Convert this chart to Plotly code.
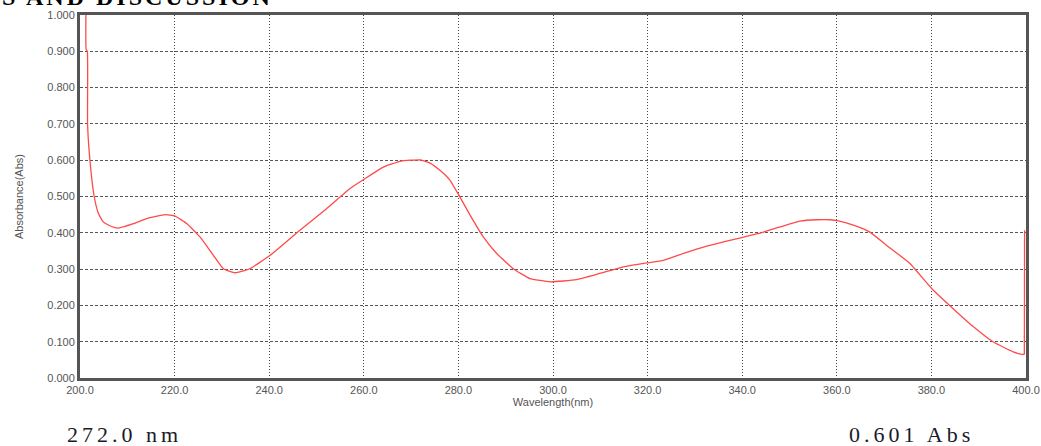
import plotly.graph_objects as go

# UV-Vis absorption spectrum (wavelength in nm, absorbance in Abs)
wavelength = [201.25, 201.3, 201.55, 201.6, 202.1, 203.0, 203.9, 204.9, 206.5, 208.1,
              211.3, 214.1, 218.0, 220.1, 222.6, 225.4, 228.2, 230.3, 232.8, 235.9,
              240.2, 246.5, 252.0, 257.1, 259.9, 264.1, 267.7, 270.0, 272.0, 274.0,
              276.1, 278.2, 280.3, 282.5, 285.3, 288.1, 291.6, 295.1, 299.4, 305.0,
              309.9, 314.9, 319.8, 323.3, 327.6, 332.5, 336.7, 339.9, 344.5, 348.0,
              352.2, 355.7, 358.6, 360.3, 363.5, 367.0, 370.5, 375.5, 380.1, 384.6,
              388.9, 393.1, 397.3, 399.2, 399.65, 399.7]
absorbance = [1.000, 0.905, 0.900, 0.700, 0.600, 0.500, 0.453, 0.430, 0.418, 0.413,
              0.425, 0.439, 0.450, 0.446, 0.425, 0.388, 0.338, 0.301, 0.290, 0.301,
              0.338, 0.407, 0.465, 0.522, 0.546, 0.581, 0.597, 0.600, 0.601, 0.592,
              0.572, 0.545, 0.499, 0.448, 0.388, 0.343, 0.301, 0.274, 0.265, 0.271,
              0.288, 0.306, 0.317, 0.324, 0.343, 0.363, 0.377, 0.387, 0.402, 0.416,
              0.432, 0.436, 0.436, 0.433, 0.421, 0.402, 0.366, 0.315, 0.246, 0.191,
              0.141, 0.099, 0.072, 0.065, 0.065, 0.407]

x_ticks = [200, 220, 240, 260, 280, 300, 320, 340, 360, 380, 400]
y_ticks = [0.0, 0.1, 0.2, 0.3, 0.4, 0.5, 0.6, 0.7, 0.8, 0.9, 1.0]

# peak reading shown under the chart (main band above 240 nm)
peak_idx = max(range(len(absorbance)), key=lambda i: absorbance[i] if wavelength[i] > 240 else -1)
peak_wl = wavelength[peak_idx]
peak_abs = absorbance[peak_idx]

fig = go.Figure()
# smooth body of the spectrum
fig.add_trace(go.Scatter(
    x=wavelength[:-1], y=absorbance[:-1], mode="lines",
    line=dict(color="#ff4a4a", width=1.3, shape="spline", smoothing=0.4),
    showlegend=False, hoverinfo="skip",
))
# final jump at the end of the scan
fig.add_trace(go.Scatter(
    x=wavelength[-2:], y=absorbance[-2:], mode="lines",
    line=dict(color="#ff4a4a", width=1.3),
    showlegend=False, hoverinfo="skip",
))

tick_font = dict(family="Liberation Sans, Arial, sans-serif", size=11, color="#555555")

fig.update_xaxes(
    range=[200, 400], tickmode="array", tickvals=x_ticks,
    ticktext=[f"{v:.1f}" for v in x_ticks], tickfont=tick_font,
    showgrid=True, gridcolor="#444444", gridwidth=1, griddash="1px,2px",
    showline=True, linecolor="#555555", linewidth=3, mirror=True,
    ticks="", zeroline=False, automargin=False,
    title=dict(text="Wavelength(nm)", font=tick_font, standoff=0),
)
fig.update_yaxes(
    range=[0, 1], tickmode="array", tickvals=y_ticks,
    ticktext=[f"{v:.3f}" for v in y_ticks], tickfont=tick_font,
    showgrid=True, gridcolor="#555555", gridwidth=1, griddash="3px,2px",
    showline=True, linecolor="#555555", linewidth=3, mirror=True,
    ticks="", zeroline=False, automargin=False,
    title=dict(text="Absorbance(Abs)", font=tick_font, standoff=22),
)

serif = "Liberation Serif, Times New Roman, serif"


def spaced(text, px):
    return f'<span style="letter-spacing:{px}px">{text}</span>'


fig.add_annotation(
    text="<b>" + spaced("S AND DISCUSSION", 3) + "</b>", xref="paper", yref="paper",
    x=-0.0846, y=1.009, xanchor="left", yanchor="bottom", showarrow=False,
    font=dict(family=serif, size=24, color="#000000"),
)
fig.add_annotation(
    text=spaced(f"{peak_wl:.1f} nm", 4), xref="paper", yref="paper",
    x=-0.0159, y=-0.117, xanchor="left", yanchor="top", showarrow=False,
    font=dict(family=serif, size=22, color="#1a1a2a"),
)
fig.add_annotation(
    text=spaced(f"{peak_abs:.3f} Abs", 4), xref="paper", yref="paper",
    x=0.8105, y=-0.117, xanchor="left", yanchor="top", showarrow=False,
    font=dict(family=serif, size=22, color="#1a1a2a"),
)

fig.update_layout(
    width=1041, height=446,
    margin=dict(l=80, r=15, t=15, b=68),
    paper_bgcolor="white", plot_bgcolor="white",
)

fig.write_html("out.html")
